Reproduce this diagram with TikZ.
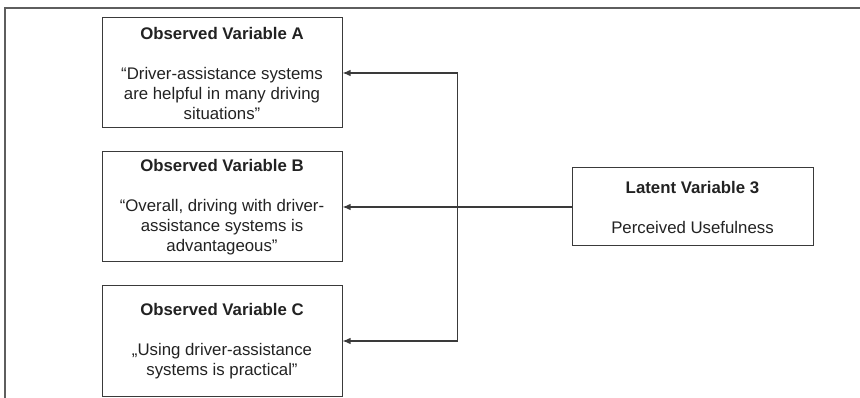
\documentclass[tikz,border=0pt]{standalone}
\usepackage{fontspec}
\setmainfont{Liberation Sans}
\usetikzlibrary{arrows.meta,positioning}
\definecolor{linegray}{HTML}{3A3A3A}
\definecolor{framegray}{HTML}{5E5E5E}
\definecolor{textgray}{HTML}{222222}
\tikzset{
    %Define standard arrow tip
    >={Latex[length=8pt,width=6.5pt]},
    %Define style for the item boxes
    observedrect/.style={
           rectangle,
           draw=linegray, line width=1pt,
           minimum width=240pt,
           minimum height=110pt,
           inner sep=0pt,
           font=\fontsize{16.8}{20}\selectfont,
           text=textgray,
           align=center},
    latentrect/.style={
           observedrect,
           minimum width=241pt,
           minimum height=78pt},
    % Define arrow style
    pil/.style={
           ->,
           draw=linegray,
           line width=1.3pt}
}
\begin{document}
\begin{tikzpicture}[x=1pt,y=1pt,node distance=23pt]
\useasboundingbox (0,0) rectangle (860,-398);
% frame
\draw[framegray, line width=1.2pt] (860,-8) -- (5,-8) -- (5,-398);
\node[observedrect] (obsA) at (222,-73)
  {\textbf{Observed Variable A}\\[20pt]“Driver-assistance systems\\are helpful in many driving\\situations”};
\node[observedrect, below=of obsA] (obsB)
  {\textbf{Observed Variable B}\\[20pt]“Overall, driving with driver-\\assistance systems is\\advantageous”};
\node[observedrect, below=of obsB] (obsC)
  {\textbf{Observed Variable C}\\[20pt]„Using driver-assistance\\systems is practical”};
\node[latentrect, right=229pt of obsB] (lat3)
  {\textbf{Latent Variable 3}\\[20pt]Perceived Usefulness};
\coordinate[right=115pt of obsB] (split);
\draw[pil] (lat3) -- (obsB);
\draw[pil] (split) |- (obsA);
\draw[pil] (split) |- (obsC);
\end{tikzpicture}
\end{document}
